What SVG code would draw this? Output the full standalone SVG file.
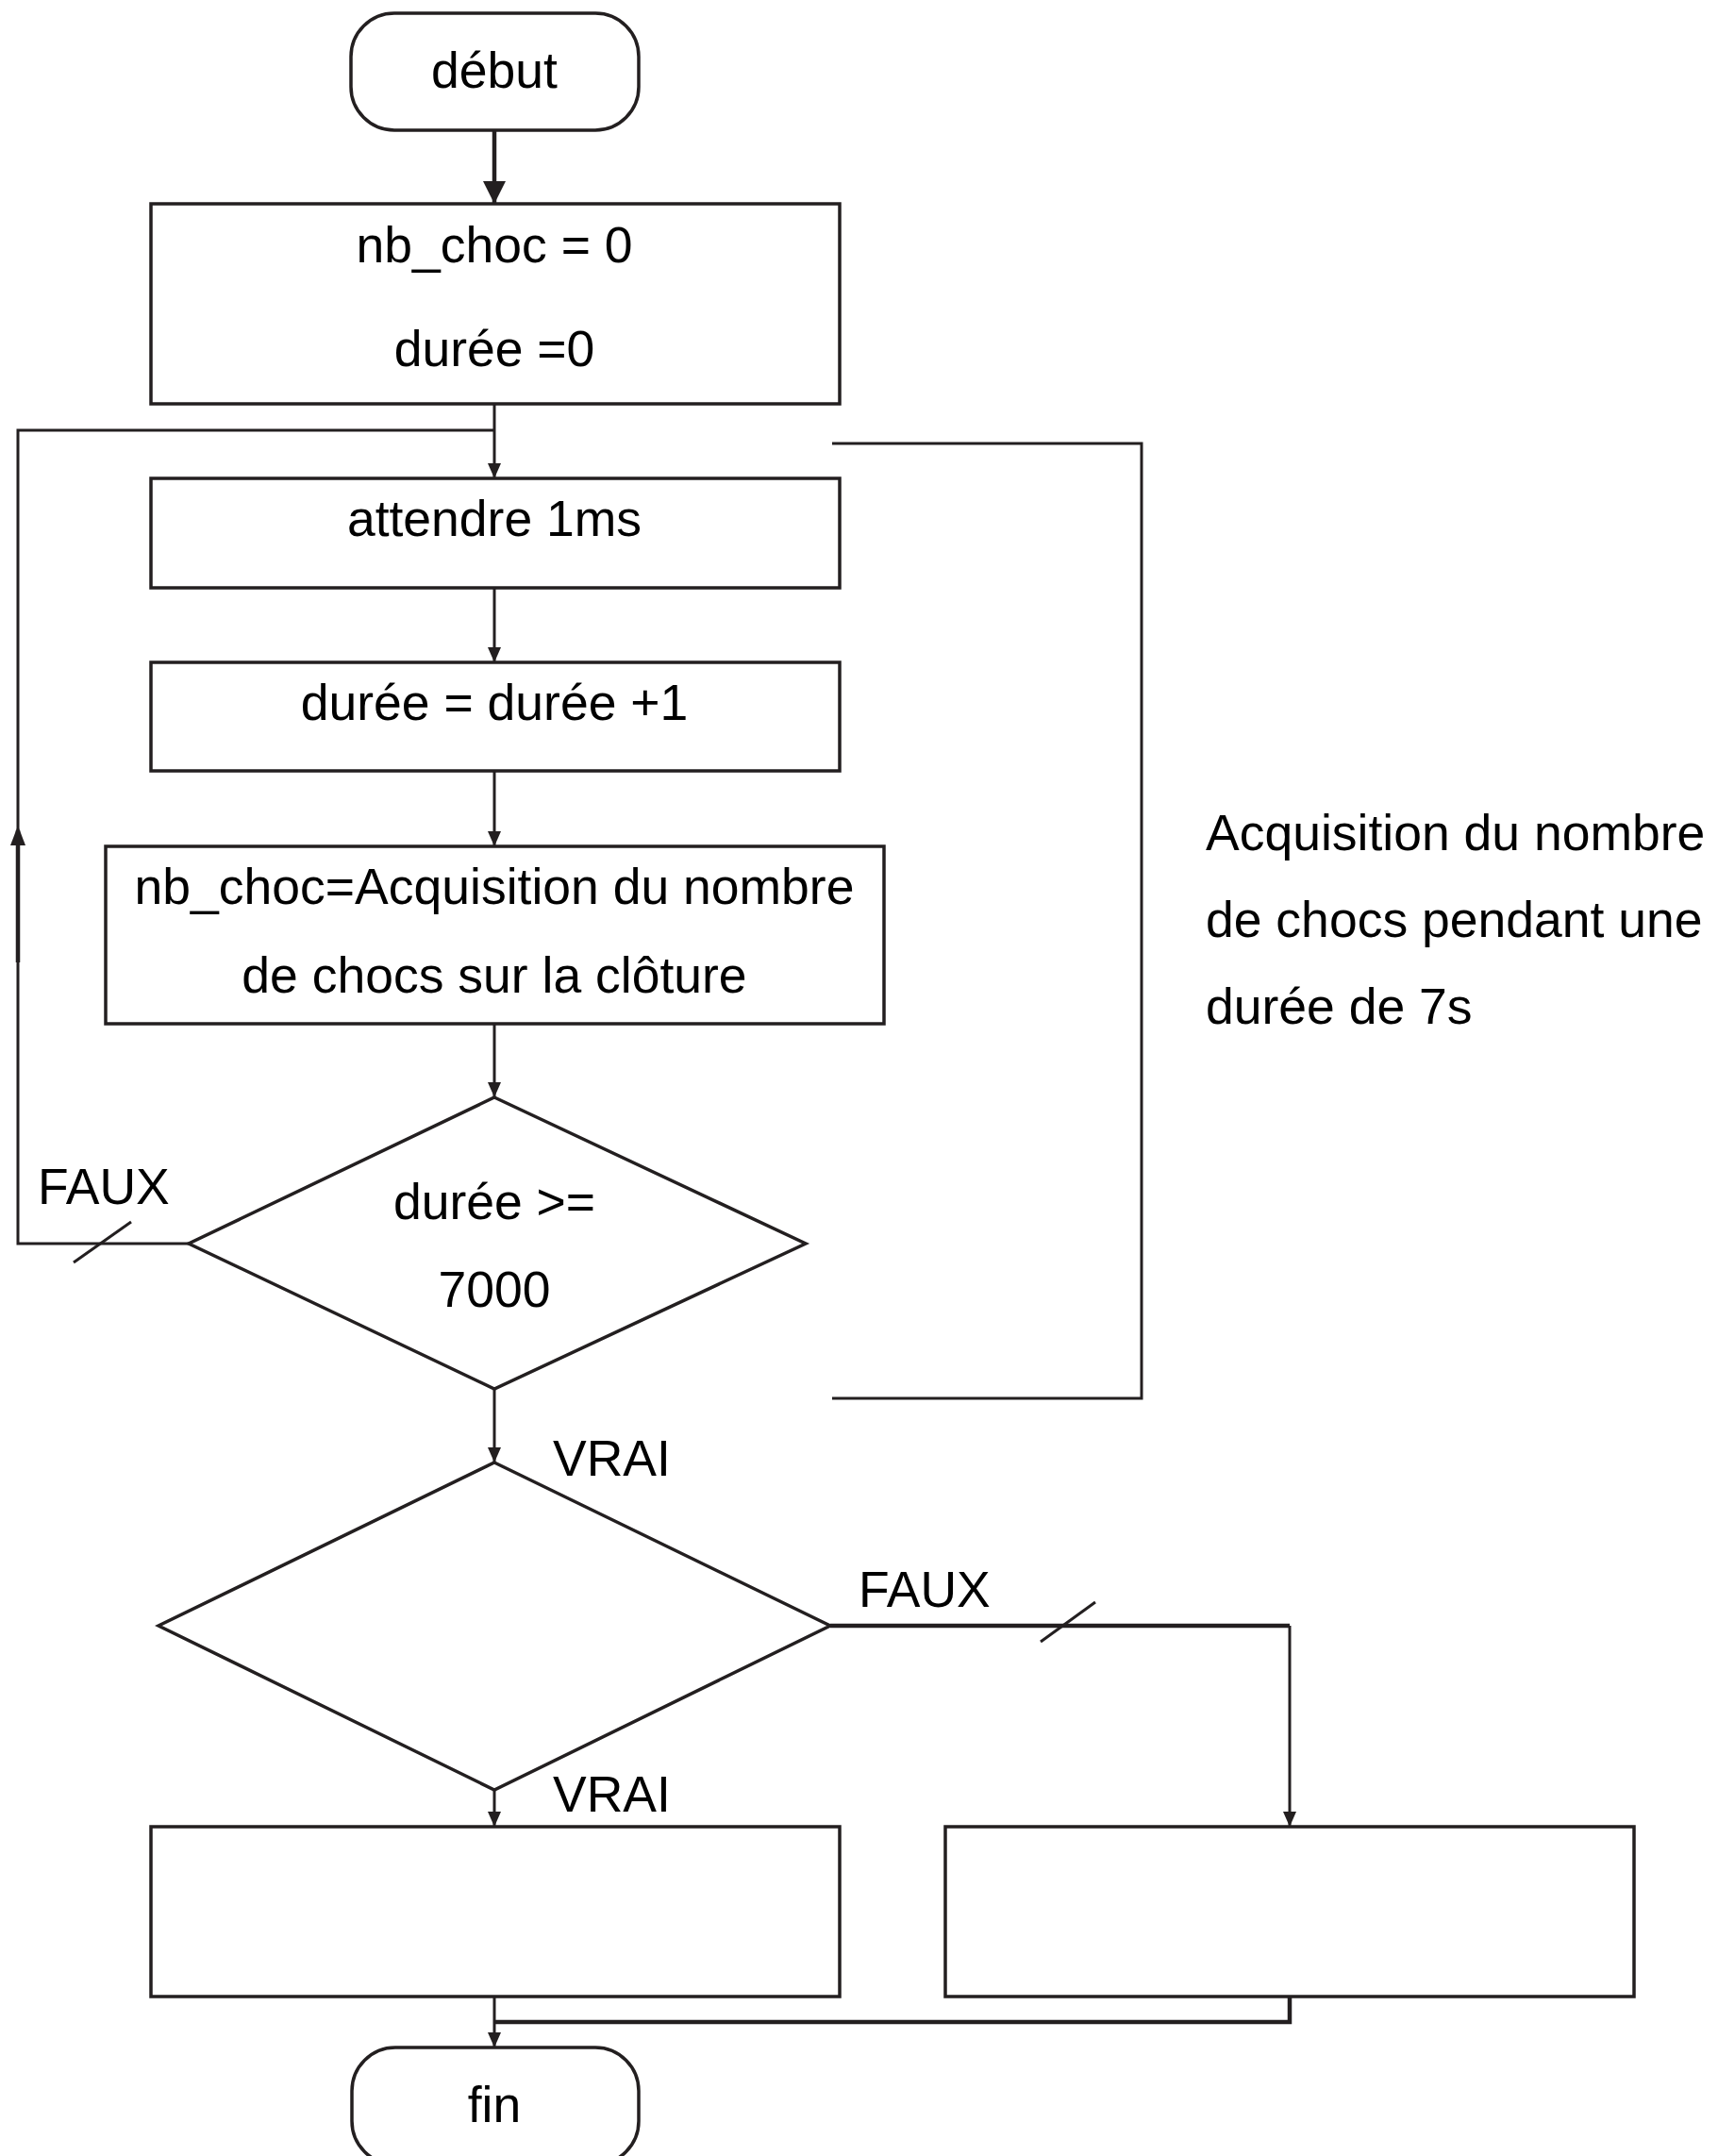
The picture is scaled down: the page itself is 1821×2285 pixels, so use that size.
<svg xmlns="http://www.w3.org/2000/svg" width="1821" height="2285" viewBox="0 0 1821 2285">
<style>
.box{fill:none;stroke:#231f20;stroke-width:3.5}
.ln{fill:none;stroke:#231f20;stroke-width:3}
.thk{fill:none;stroke:#231f20;stroke-width:4.5}
text{font-family:"Liberation Sans",Arial,sans-serif;font-size:53.5px;fill:#000}
.c{text-anchor:middle}
</style>
<defs>
<marker id="ah" viewBox="0 0 16 14" refX="16" refY="7" markerWidth="16" markerHeight="14" markerUnits="userSpaceOnUse" orient="auto">
<path d="M0,0 L16,7 L0,14 Z" fill="#231f20"/>
</marker>
<marker id="ahb" viewBox="0 0 24 24" refX="24" refY="12" markerWidth="24" markerHeight="24" markerUnits="userSpaceOnUse" orient="auto">
<path d="M0,0 L24,12 L0,24 Z" fill="#231f20"/>
</marker>
</defs>
<rect width="1821" height="2285" fill="#fff"/>
<g id="connectors">
<line class="thk" x1="524" y1="138" x2="524" y2="216" stroke-width="5.5" marker-end="url(#ahb)"/>
<line class="ln" x1="524" y1="428" x2="524" y2="507" marker-end="url(#ah)"/>
<polyline class="ln" points="524,456 19,456 19,1318 200,1318"/>
<line class="thk" x1="19" y1="1020" x2="19" y2="880"/>
<path d="M11,896 L19,875 L27,896 Z" fill="#231f20"/>
<line class="ln" x1="78" y1="1338" x2="139" y2="1295"/>
<line class="ln" x1="524" y1="623" x2="524" y2="702" marker-end="url(#ah)"/>
<line class="ln" x1="524" y1="817" x2="524" y2="897" marker-end="url(#ah)"/>
<line class="ln" x1="524" y1="1085" x2="524" y2="1163" marker-end="url(#ah)"/>
<polyline class="ln" points="882,470 1210,470 1210,1482 882,1482"/>
<line class="ln" x1="524" y1="1472" x2="524" y2="1550" marker-end="url(#ah)"/>
<polyline class="thk" points="880,1723 1367,1723"/>
<line class="ln" x1="1367" y1="1723" x2="1367" y2="1936" marker-end="url(#ah)"/>
<line class="ln" x1="1103" y1="1740" x2="1161" y2="1698"/>
<line class="ln" x1="524" y1="1897" x2="524" y2="1936" marker-end="url(#ah)"/>
<polyline class="thk" points="1367,2116 1367,2143 524,2143"/>
<line class="ln" x1="524" y1="2116" x2="524" y2="2170" marker-end="url(#ah)"/>
<text x="40" y="1276">FAUX</text>
<text x="586" y="1564">VRAI</text>
<text x="910" y="1703">FAUX</text>
<text x="586" y="1920">VRAI</text>
</g>
<g id="debut">
<rect class="box" x="372" y="14" width="305" height="124" rx="46" ry="46"/>
<text class="c" x="524" y="93">début</text>
</g>
<g id="init">
<rect class="box" x="160" y="216" width="730" height="212"/>
<text class="c" x="524" y="278">nb_choc = 0</text>
<text class="c" x="524" y="388">durée =0</text>
</g>
<g id="attendre">
<rect class="box" x="160" y="507" width="730" height="116"/>
<text class="c" x="524" y="568">attendre 1ms</text>
</g>
<g id="increment">
<rect class="box" x="160" y="702" width="730" height="115"/>
<text class="c" x="524" y="763">durée = durée +1</text>
</g>
<g id="acquisition">
<rect class="box" x="112" y="897" width="825" height="188"/>
<text class="c" x="524" y="958">nb_choc=Acquisition du nombre</text>
<text class="c" x="524" y="1052">de chocs sur la clôture</text>
</g>
<g id="test-duree">
<polygon class="box" points="524,1163 854,1318 524,1472 200,1318"/>
<text class="c" x="524" y="1292">durée &gt;=</text>
<text class="c" x="524" y="1385">7000</text>
</g>
<g id="note">
<text x="1278" y="901">Acquisition du nombre</text>
<text x="1278" y="993">de chocs pendant une</text>
<text x="1278" y="1085">durée de 7s</text>
</g>
<g id="test2">
<polygon class="box" points="524,1550 880,1723 524,1897 168,1723"/>
</g>
<g id="action-vrai">
<rect class="box" x="160" y="1936" width="730" height="180"/>
</g>
<g id="action-faux">
<rect class="box" x="1002" y="1936" width="730" height="180"/>
</g>
<g id="fin">
<rect class="box" x="373" y="2170" width="304" height="124" rx="46" ry="46"/>
<text class="c" x="524" y="2249">fin</text>
</g>
</svg>
